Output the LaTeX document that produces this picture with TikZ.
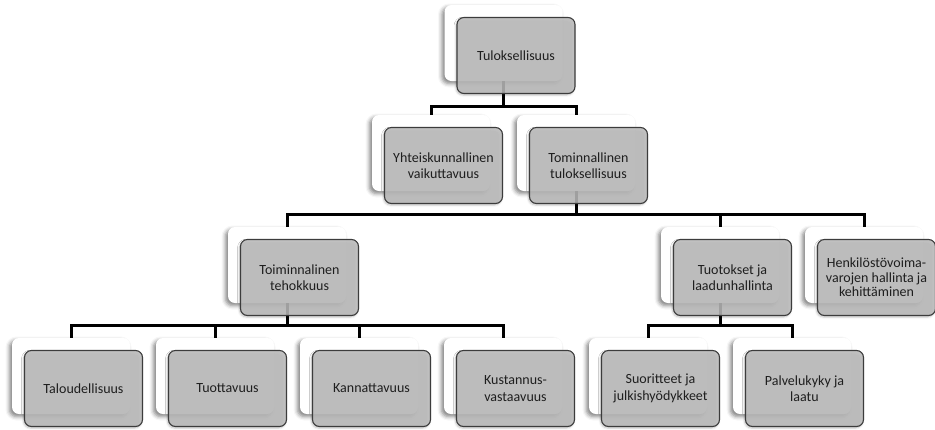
\documentclass[tikz,border=0pt]{standalone}
\usepackage{fontspec}
\setmainfont{Carlito}
\usetikzlibrary{shadows.blur}
\definecolor{cardgray}{RGB}{188,188,188}
\definecolor{cardline}{RGB}{60,60,60}
\definecolor{cardtext}{RGB}{30,30,30}
\begin{document}
\begin{tikzpicture}[x=1pt,y=-1pt,
  card/.style={rectangle, rounded corners=7pt, minimum width=118pt,
    minimum height=76pt, inner sep=0pt},
  backcard/.style={card, fill=white,
    blur shadow={shadow xshift=-2.5pt, shadow yshift=-2.5pt,
      shadow blur radius=4pt, shadow opacity=50}},
  frontcard/.style={card, draw=cardline, line width=1.1pt, fill=cardgray,
    fill opacity=0.85, text opacity=1, text=cardtext, align=center,
    font=\fontsize{14}{16.5}\selectfont,
    blur shadow={shadow xshift=-1pt, shadow yshift=-1.5pt,
      shadow blur radius=2pt, shadow opacity=30}},
  link/.style={line width=3pt, black}
]
\useasboundingbox (0,0) rectangle (935,429);

% bus lines between levels
\coordinate (bus1) at (0,106);
\coordinate (bus2) at (0,214);
\coordinate (bus3) at (0,325);

% back cards
\node[backcard] (top) at (503.5,43) {};
\node[backcard] (yht) at (431,153) {};
\node[backcard] (tom) at (576,153) {};
\node[backcard] (teh) at (287,265) {};
\node[backcard] (tuo) at (720,265) {};
\node[backcard] (hen) at (864,265) {};
\node[backcard] (tal) at (71,376) {};
\node[backcard] (tuot) at (215,376) {};
\node[backcard] (kan) at (359,376) {};
\node[backcard] (kus) at (503,376) {};
\node[backcard] (suo) at (648,376) {};
\node[backcard] (pal) at (792,376) {};

% connectors
\draw[link] (top.south) -- (top.south |- bus1);
\draw[link] (yht.north) |- (bus1 -| tom.north) -- (tom.north);

\draw[link] (tom.south) -- (tom.south |- bus2);
\draw[link] (teh.north) |- (bus2 -| hen.north) -- (hen.north);
\draw[link] (tuo.north) -- (tuo.north |- bus2);

\draw[link] (teh.south) -- (teh.south |- bus3);
\draw[link] (tal.north) |- (bus3 -| kus.north) -- (kus.north);
\draw[link] (tuot.north) -- (tuot.north |- bus3);
\draw[link] (kan.north) -- (kan.north |- bus3);

\draw[link] (tuo.south) -- (tuo.south |- bus3);
\draw[link] (suo.north) |- (bus3 -| pal.north) -- (pal.north);

% front cards with labels
\node[frontcard] (topF) at ([shift={(12.5,12.5)}]top.center) {Tuloksellisuus};
\node[frontcard] (yhtF) at ([shift={(12.5,12.5)}]yht.center) {Yhteiskunnallinen\\vaikuttavuus};
\node[frontcard] (tomF) at ([shift={(12.5,12.5)}]tom.center) {Tominnallinen\\tuloksellisuus};
\node[frontcard] (tehF) at ([shift={(12.5,12.5)}]teh.center) {Toiminnalinen\\tehokkuus};
\node[frontcard] (tuoF) at ([shift={(12.5,12.5)}]tuo.center) {Tuotokset ja\\laadunhallinta};
\node[frontcard, font=\fontsize{14}{14.5}\selectfont] (henF) at ([shift={(12.5,12.5)}]hen.center) {Henkilöstövoima-\\varojen hallinta ja\\kehittäminen};
\node[frontcard] (talF) at ([shift={(12.5,12.5)}]tal.center) {Taloudellisuus};
\node[frontcard] (tuotF) at ([shift={(12.5,12.5)}]tuot.center) {Tuottavuus};
\node[frontcard] (kanF) at ([shift={(12.5,12.5)}]kan.center) {Kannattavuus};
\node[frontcard] (kusF) at ([shift={(12.5,12.5)}]kus.center) {Kustannus-\\vastaavuus};
\node[frontcard] (suoF) at ([shift={(12.5,12.5)}]suo.center) {Suoritteet ja\\julkishyödykkeet};
\node[frontcard] (palF) at ([shift={(12.5,12.5)}]pal.center) {Palvelukyky ja\\laatu};
\end{tikzpicture}
\end{document}
